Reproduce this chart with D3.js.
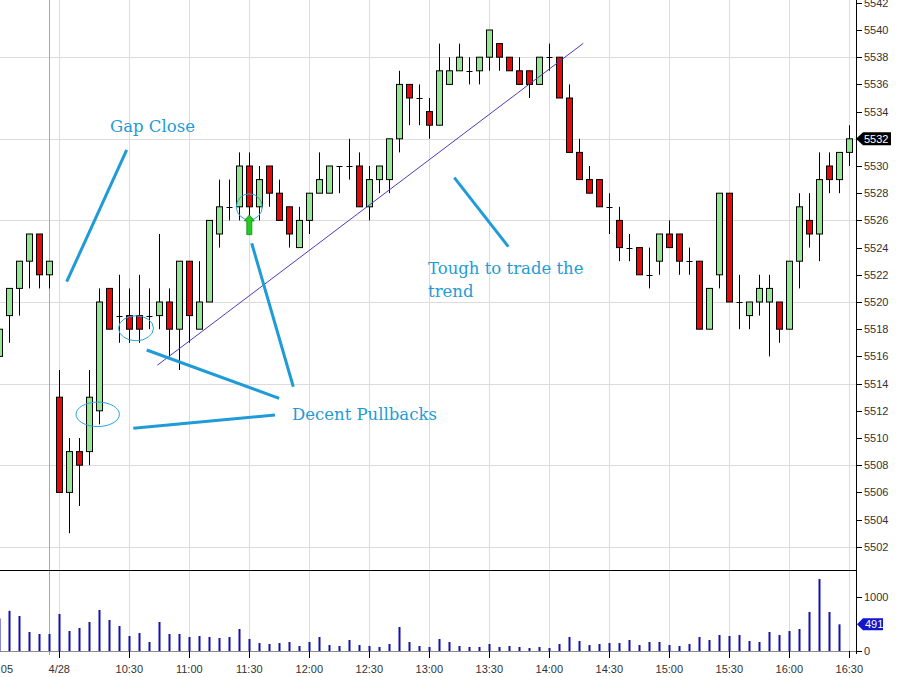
<!DOCTYPE html>
<html><head><meta charset="utf-8">
<script src="https://cdn.jsdelivr.net/npm/d3@7"></script>
<style>
html,body{margin:0;padding:0;background:#fff;}
svg{display:block;}
</style></head>
<body>
<svg id="c" width="899" height="677"></svg>
<script>
// ---------- DATA ----------
const opens  = [5516,5519,5521,5523,5525,5522,5513,5506,5509,5509,5512,5521,5519,5519,5519,5519,5519,5520,5518,5523,5518,5520,5525,5527,5527,5530,5527,5530,5528,5527,5524,5526,5528,5528,5530,5530,5530,5527,5529,5529,5532,5536,5535,5534,5533,5536,5537,5537,5537,5538,5539,5538,5537,5537,5536,5538,5538,5535,5531,5529,5529,5527,5526,5524,5524,5522,5523,5525,5525,5523,5523,5518,5522,5528,5520,5519,5520,5520,5520,5518,5523,5526,5525,5530,5529,5531];
const highs  = [5519,5521,5523,5525,5525,5523,5515,5510,5510,5515,5521,5521,5522,5521,5522,5521,5525,5521,5523,5523,5523,5526,5529,5529,5531,5531,5530,5530,5529,5527,5527,5528,5531,5530,5530,5532,5531,5530,5530,5532,5537,5536,5536,5535,5539,5538,5539,5538,5538,5540,5539,5538,5538,5537,5538,5539,5538,5536,5532,5530,5529,5528,5527,5525,5524,5524,5525,5526,5525,5524,5523,5521,5528,5528,5522,5520,5522,5522,5520,5523,5528,5528,5531,5531,5531,5533];
const lows   = [5515,5517,5519,5521,5521,5521,5506,5503,5505,5508,5511,5518,5517,5517,5517,5518,5518,5516,5515,5517,5518,5520,5524,5526,5526,5526,5526,5527,5526,5524,5524,5525,5528,5528,5528,5529,5527,5526,5528,5528,5531,5533,5533,5532,5533,5536,5537,5536,5536,5537,5537,5537,5536,5535,5536,5537,5535,5531,5529,5528,5527,5525,5523,5523,5522,5521,5522,5524,5522,5522,5518,5518,5521,5520,5518,5518,5519,5516,5517,5518,5521,5524,5523,5528,5528,5530];
const closes = [5518,5521,5523,5525,5522,5523,5506,5509,5508,5513,5520,5518,5519,5518,5518,5519,5520,5518,5523,5519,5520,5526,5527,5527,5530,5527,5529,5528,5526,5525,5526,5528,5529,5530,5530,5530,5527,5529,5530,5532,5536,5535,5535,5533,5537,5537,5538,5537,5538,5540,5538,5537,5536,5536,5538,5538,5535,5531,5529,5528,5527,5527,5524,5524,5522,5522,5525,5524,5523,5523,5518,5521,5528,5520,5520,5520,5521,5521,5518,5523,5527,5525,5529,5529,5531,5532];
const volumes = [600,740,645,350,313,313,681,368,424,534,755,571,460,276,331,166,534,313,313,258,276,258,239,258,405,221,147,129,147,166,92,166,258,110,92,202,110,92,74,129,442,166,92,74,221,166,92,74,74,129,74,92,74,55,74,55,129,258,184,110,129,147,147,202,110,166,166,110,92,129,258,202,295,276,295,184,166,350,295,368,405,718,1326,718,491];
const tickIndex  = [0,6,13,19,25,31,37,43,49,55,61,67,73,79,85];
const tickLabels = ["16:05","4/28","10:30","11:00","11:30","12:00","12:30","13:00","13:30","14:00","14:30","15:00","15:30","16:00","16:30"];
const dayBreakIndex = 5;
const priceTicks = d3.range(5502, 5543, 2);
const priceGrid  = d3.range(5502, 5543, 6);
const volTicks = [0, 1000];
// annotations in data coordinates [barIndex, price]
const trendLine = [[15.8, 5515.35], [58.4, 5539.02]];
const pointerLines = [
  [[12.74, 5531.18], [6.74, 5521.49]],
  [[45.5, 5529.14], [50.9, 5524.07]],
  [[25.24, 5524.32], [29.4, 5513.77]],
  [[14.74, 5516.47], [27.99, 5512.92]],
  [[13.4, 5510.71], [27.57, 5511.69]]
];
const notes = [
  {i: 11.07, p: 5532.47, lines: ["Gap Close"]},
  {i: 42.87, p: 5522.06, lines: ["Tough to trade the", "trend"]},
  {i: 29.27, p: 5511.32, lines: ["Decent Pullbacks"]}
];
const ellipses = [
  {i: 13.67, p: 5518.07, rx: 1.75, ry: 0.92},
  {i: 9.84, p: 5511.74, rx: 2.17, ry: 0.9},
  {i: 25.0, p: 5527.0, rx: 1.3, ry: 0.955}
];
const arrow = {i: 25, pTip: 5526.4, pBase: 5524.95};

// ---------- LAYOUT ----------
const W = 899, H = 677;
const axisX = 856, priceBottom = 570, volZero = 651;
const svg = d3.select("#c");
const x = d3.scaleLinear().domain([0, 85]).range([-0.7, 849.3]);
const y = d3.scaleLinear().domain([5500, 5542]).range([574, 2.8]);
const yv = d3.scaleLinear().domain([0, 1000]).range([volZero, 596.7]);
const bars = opens.map((o, i) => ({i, o, h: highs[i], l: lows[i], c: closes[i]}));
const font = "'Liberation Sans', Arial, sans-serif";
const annColor = "#1f9bd7";

svg.append("defs").append("clipPath").attr("id", "plotclip")
  .append("rect").attr("x", 0).attr("y", 0).attr("width", axisX).attr("height", priceBottom);
svg.select("defs").append("clipPath").attr("id", "xclip")
  .append("rect").attr("x", 0).attr("y", 0).attr("width", axisX).attr("height", H);

// grid
const g = svg.append("g");
g.selectAll(".hg").data(priceGrid).join("line")
  .attr("x1", 0).attr("x2", axisX).attr("y1", d => Math.round(y(d)) + 0.5).attr("y2", d => Math.round(y(d)) + 0.5)
  .attr("stroke", "#dcdcdc");
g.selectAll(".vg").data(tickIndex.filter(d => d > 0)).join("line")
  .attr("x1", d => Math.round(x(d)) + 0.5).attr("x2", d => Math.round(x(d)) + 0.5)
  .attr("y1", 0).attr("y2", volZero)
  .attr("stroke", "#dcdcdc");
g.append("line")
  .attr("x1", Math.round(x(dayBreakIndex)) + 0.5).attr("x2", Math.round(x(dayBreakIndex)) + 0.5)
  .attr("y1", 0).attr("y2", volZero + 4).attr("stroke", "#a8a8a8");

// candles
const cg = svg.append("g").attr("clip-path", "url(#plotclip)");
const bw = 6;
const cand = cg.selectAll(".k").data(bars).join("g");
cand.append("line")
  .attr("x1", d => Math.round(x(d.i)) + 0.5).attr("x2", d => Math.round(x(d.i)) + 0.5)
  .attr("y1", d => y(d.h)).attr("y2", d => y(d.l))
  .attr("stroke", "#000").attr("stroke-width", 1);
cand.filter(d => d.o !== d.c).append("rect")
  .attr("x", d => Math.round(x(d.i)) - bw / 2 + 0.5)
  .attr("y", d => y(Math.max(d.o, d.c)))
  .attr("width", bw)
  .attr("height", d => Math.abs(y(d.o) - y(d.c)))
  .attr("fill", d => d.c > d.o ? "#95e595" : "#e00c0c")
  .attr("stroke", "#000").attr("stroke-width", 1);
cand.filter(d => d.o === d.c).append("line")
  .attr("x1", d => Math.round(x(d.i)) - bw / 2 + 0.5).attr("x2", d => Math.round(x(d.i)) + bw / 2 + 0.5)
  .attr("y1", d => Math.round(y(d.o)) + 0.5).attr("y2", d => Math.round(y(d.o)) + 0.5)
  .attr("stroke", "#000").attr("stroke-width", 1);

// trend line
const line = d3.line().x(d => x(d[0])).y(d => y(d[1]));
cg.append("path").attr("d", line(trendLine)).attr("fill", "none")
  .attr("stroke", "#4a3cc0").attr("stroke-width", 1);

// pointer lines
cg.selectAll(".pl").data(pointerLines).join("path")
  .attr("d", d => line(d)).attr("fill", "none")
  .attr("stroke", annColor).attr("stroke-width", 3).attr("stroke-linecap", "butt");

// ellipses
cg.selectAll(".el").data(ellipses).join("ellipse")
  .attr("cx", d => x(d.i)).attr("cy", d => y(d.p))
  .attr("rx", d => x(d.i + d.rx) - x(d.i)).attr("ry", d => y(d.p - d.ry) - y(d.p))
  .attr("fill", "none").attr("stroke", "#2aa3dd").attr("stroke-width", 1);

// arrow
{
  const ax = x(arrow.i), yt = y(arrow.pTip), yb = y(arrow.pBase);
  const headH = 6;
  const pts = [[ax, yt], [ax + 5, yt + headH], [ax + 2.5, yt + headH], [ax + 2.5, yb], [ax - 2.5, yb], [ax - 2.5, yt + headH], [ax - 5, yt + headH]];
  cg.append("polygon").attr("points", pts.map(p => p.join(",")).join(" "))
    .attr("fill", "#22cc22").attr("stroke", "#118811").attr("stroke-width", 0.8);
}

// notes
notes.forEach(n => {
  const t = cg.append("text").attr("x", x(n.i)).attr("y", y(n.p))
    .attr("fill", annColor).attr("font-family", "'DejaVu Serif', Georgia, serif")
    .attr("font-size", 16.5);
  n.lines.forEach((s, k) => t.append("tspan").attr("x", x(n.i)).attr("dy", k === 0 ? 0 : 23).text(s));
});

// panel separator
svg.append("line").attr("x1", 0).attr("x2", axisX).attr("y1", priceBottom + 0.5).attr("y2", priceBottom + 0.5)
  .attr("stroke", "#000");

// volume
svg.append("line").attr("x1", 0).attr("x2", axisX).attr("y1", volZero + 0.5).attr("y2", volZero + 0.5)
  .attr("stroke", "#8a8a8a");
svg.append("g").attr("clip-path", "url(#xclip)").selectAll("rect").data(volumes).join("rect")
  .attr("x", (d, i) => Math.round(x(i)) - 0.5).attr("width", 2)
  .attr("y", d => yv(d)).attr("height", d => volZero - yv(d))
  .attr("fill", "#1212b0");

// right axis
svg.append("line").attr("x1", axisX + 0.5).attr("x2", axisX + 0.5).attr("y1", 0).attr("y2", volZero + 3)
  .attr("stroke", "#000");
const pa = svg.append("g");
pa.selectAll("line").data(priceTicks).join("line")
  .attr("x1", axisX).attr("x2", axisX + 6).attr("y1", d => Math.round(y(d)) + 0.5).attr("y2", d => Math.round(y(d)) + 0.5)
  .attr("stroke", "#000");
pa.selectAll("text").data(priceTicks).join("text")
  .attr("x", axisX + 8).attr("y", d => y(d)).attr("dy", "0.36em")
  .attr("font-family", font).attr("font-size", 11).attr("fill", "#333").text(d => d);
const va = svg.append("g");
va.selectAll("line").data(volTicks).join("line")
  .attr("x1", axisX).attr("x2", axisX + 6).attr("y1", d => Math.round(yv(d)) + 0.5).attr("y2", d => Math.round(yv(d)) + 0.5)
  .attr("stroke", "#000");
va.selectAll("text").data(volTicks).join("text")
  .attr("x", axisX + 8).attr("y", d => yv(d)).attr("dy", "0.36em")
  .attr("font-family", font).attr("font-size", 11).attr("fill", "#333").text(d => d);

// last price flag
{
  const lp = closes[closes.length - 1], yy = y(lp);
  const h = 13, w = 35, tip = 7;
  svg.append("polygon").attr("points",
    [[axisX, yy], [axisX + tip, yy - h / 2], [axisX + w, yy - h / 2], [axisX + w, yy + h / 2], [axisX + tip, yy + h / 2]].map(p => p.join(",")).join(" "))
    .attr("fill", "#000");
  svg.append("text").attr("x", axisX + tip + 1).attr("y", yy).attr("dy", "0.36em")
    .attr("font-family", font).attr("font-size", 11).attr("fill", "#fff").text(lp);
}
{
  const lv = volumes[volumes.length - 1], yy = yv(lv);
  const h = 12, w = 27, tip = 6;
  svg.append("polygon").attr("points",
    [[axisX + 1, yy], [axisX + 1 + tip, yy - h / 2], [axisX + w, yy - h / 2], [axisX + w, yy + h / 2], [axisX + 1 + tip, yy + h / 2]].map(p => p.join(",")).join(" "))
    .attr("fill", "#1414c8");
  svg.append("text").attr("x", axisX + tip + 3).attr("y", yy).attr("dy", "0.36em")
    .attr("font-family", font).attr("font-size", 11).attr("fill", "#fff").text(lv);
}

// x axis
const xa = svg.append("g");
xa.selectAll("line").data(tickIndex).join("line")
  .attr("x1", d => Math.round(x(d)) + 0.5).attr("x2", d => Math.round(x(d)) + 0.5)
  .attr("y1", volZero).attr("y2", volZero + 7).attr("stroke", "#000");
xa.selectAll("text").data(tickIndex).join("text")
  .attr("x", d => x(d)).attr("y", 669).attr("dy", "0.36em").attr("text-anchor", "middle")
  .attr("font-family", font).attr("font-size", 11).attr("fill", "#333")
  .text((d, k) => tickLabels[k]);
</script>
</body></html>
